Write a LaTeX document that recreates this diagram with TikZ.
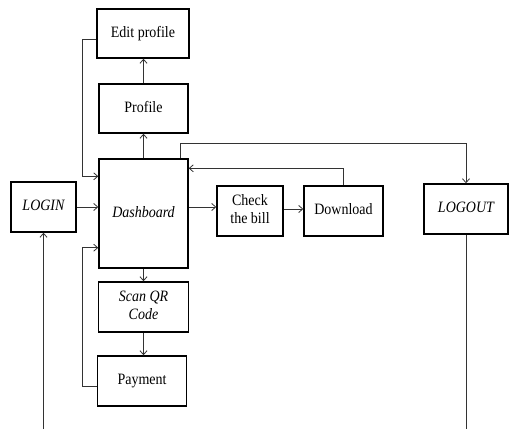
\documentclass[tikz,border=0pt]{standalone}
\usepackage{fontspec}
\usepackage{graphicx}
\setmainfont{Liberation Serif}
\usetikzlibrary{arrows.meta,calc}
% slightly tall lettering, one or more centred lines
\newcommand\tallText[1]{\scalebox{1}[1.13]{\begin{tabular}{@{}c@{}}#1\end{tabular}}}
\begin{document}
\begin{tikzpicture}[x=1pt,y=-1pt,
  box/.style={draw=black,line width=1.4pt,inner sep=0pt,align=center,
    font=\fontsize{14}{16}\selectfont},
  conn/.style={draw=black!80,line width=0.8pt,
    -{Straight Barb[length=4pt,width=7pt]}},
  wire/.style={draw=black!80,line width=0.8pt}]
\useasboundingbox (0,0) rectangle (509,429);

% boxes
\node[box,minimum width=92pt,minimum height=49pt] (edit) at (143,33.5) {\tallText{Edit profile}};
\node[box,minimum width=89pt,minimum height=49pt] (profile) at (143.5,108.5) {\tallText{Profile}};
\node[box,minimum width=89pt,minimum height=109pt] (dash) at (143.5,213.5) {\tallText{\itshape Dashboard}};
\node[box,minimum width=65pt,minimum height=50pt] (login) at (43.5,207) {\tallText{\itshape LOGIN}};
\node[box,minimum width=66pt,minimum height=50pt] (check) at (250,211) {\tallText{Check\\the bill}};
\node[box,minimum width=79pt,minimum height=50pt] (download) at (343.5,211) {\tallText{Download}};
\node[box,minimum width=84pt,minimum height=50pt] (logout) at (466,209) {\tallText{\itshape LOGOUT}};
\node[box,minimum width=90pt,minimum height=50pt] (scan) at (143.5,307) {\tallText{\itshape Scan QR\\\itshape Code}};
\node[box,minimum width=89pt,minimum height=50pt] (payment) at (142,381) {\tallText{Payment}};

% free ends at the lower edge
\coordinate (loginIn) at (43.5,429);
\coordinate (logoutOut) at (466,429);

% connectors
\draw[conn] (profile.north) -- (profile.north |- edit.south);
\draw[conn] (dash.north) -- (dash.north |- profile.south);
\draw[conn] ($(edit.west)+(0,5.5)$) -- ++(-14,0) |- ($(dash.north west)+(0,18)$);
\draw[conn] ($(dash.north east)+(-8,0)$) -- ++(0,-15) -| (logout.north);
\draw[conn] (download.north) |- ($(dash.north east)+(0,10)$);
\draw[conn] (login.east) -- (login.east -| dash.west);
\draw[conn] (dash.east |- login.east) -- (check.west |- login.east);
\draw[conn] ([yshift=2pt]check.east) -- ([yshift=2pt]download.west);
\draw[conn] (dash.south) -- (dash.south |- scan.north);
\draw[conn] (scan.south) -- (scan.south |- payment.north);
\draw[conn] ([yshift=-5pt]payment.west) -- ++(-14,0) |- ($(dash.south west)+(0,-21)$);
\draw[conn] (loginIn) -- (login.south);
\draw[wire] (logout.south) -- (logoutOut);
\end{tikzpicture}
\end{document}
